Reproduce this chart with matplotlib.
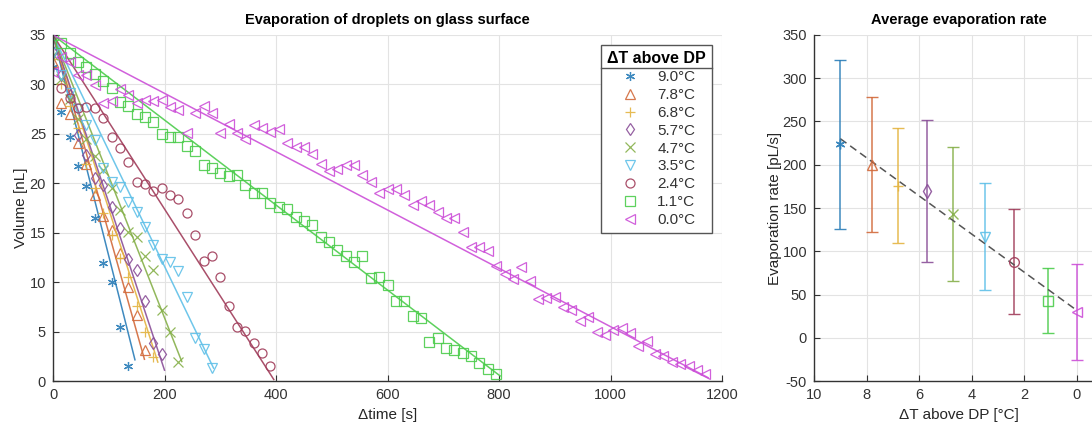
import numpy as np
import matplotlib
matplotlib.use("Agg")
import matplotlib.pyplot as plt
from matplotlib.lines import Line2D

plt.rcParams["font.family"] = ["Liberation Sans", "DejaVu Sans"]
plt.rcParams["axes.unicode_minus"] = False

# ---- data ----
labels = ["9.0°C", "7.8°C", "6.8°C", "5.7°C", "4.7°C", "3.5°C", "2.4°C", "1.1°C", "0.0°C"]
dT = [9.0, 7.8, 6.8, 5.7, 4.7, 3.5, 2.4, 1.1, 0.0]

t90 = [0, 15, 30, 45, 60, 75, 90, 105, 120, 135]
v90 = [31.8, 27.2, 24.7, 21.7, 19.7, 16.5, 11.9, 10.0, 5.5, 1.5]
t78 = [0, 15, 30, 45, 60, 75, 90, 105, 120, 135, 150, 165]
v78 = [32.3, 28.1, 27.0, 24.1, 22.0, 18.8, 16.7, 15.3, 12.9, 9.5, 6.7, 3.1]
t68 = [0, 15, 30, 45, 60, 75, 90, 105, 120, 135, 150, 165, 180]
v68 = [32.6, 30.0, 27.8, 25.6, 22.0, 19.5, 17.0, 14.8, 12.4, 10.5, 7.6, 5.0, 2.4]
t57 = [0, 15, 30, 45, 60, 75, 90, 105, 120, 135, 150, 165, 180, 195]
v57 = [33.3, 31.0, 28.9, 24.9, 22.9, 20.5, 19.8, 17.6, 15.5, 12.3, 11.2, 8.1, 3.8, 2.7]
t47 = [0, 15, 30, 45, 60, 75, 90, 105, 120, 135, 150, 165, 180, 195, 210, 225]
v47 = [33.0, 30.5, 28.5, 26.5, 24.5, 22.8, 21.3, 19.5, 17.3, 15.1, 14.6, 12.6, 11.2, 7.2, 5.0, 1.9]
t35 = [0, 15, 30, 45, 60, 75, 90, 105, 120, 135, 150, 165, 180, 195, 210, 225, 240, 255, 270, 285]
v35 = [33.2, 31.0, 29.1, 27.5, 25.9, 24.4, 21.5, 20.1, 19.6, 18.1, 17.1, 15.6, 13.8, 12.3, 12.0, 11.1,
       8.5, 4.3, 3.2, 1.3]
t24 = [15, 30, 45, 60, 75, 90, 105, 120, 135, 150, 165, 180, 195, 210, 225, 240, 255, 270, 285, 300,
       315, 330, 345, 360, 375, 390]
v24 = [29.6, 28.6, 27.6, 27.7, 27.6, 26.6, 24.7, 23.6, 22.2, 20.1, 19.9, 19.2, 19.5, 18.8, 18.4, 17.0,
       14.8, 12.1, 12.6, 10.5, 7.6, 5.5, 5.1, 3.8, 2.8, 1.5]
t11 = [0, 15, 30, 45, 60, 75, 90, 105, 120, 135, 150, 165, 180, 195, 210, 225, 240, 255, 270, 285,
       300, 315, 330, 345, 360, 375, 390, 405, 420, 435, 450, 465, 480, 495, 510, 525, 540, 555, 570, 585,
       600, 615, 630, 645, 660, 675, 690, 705, 720, 735, 750, 765, 780, 795]
v11 = [35.0, 34.2, 33.2, 32.3, 31.8, 31.1, 30.3, 29.6, 28.2, 27.8, 27.0, 26.7, 26.2, 25.0, 24.7, 24.7,
       23.8, 23.3, 21.8, 21.5, 21.0, 20.7, 20.8, 19.8, 19.0, 19.0, 18.0, 17.6, 17.4, 16.6, 16.2, 15.8,
       14.6, 14.1, 13.3, 12.6, 12.0, 12.6, 10.4, 10.5, 9.7, 8.1, 8.1, 6.6, 6.4, 3.9, 4.3, 3.3, 3.1, 2.8,
       2.5, 1.8, 1.2, 0.7]
t00 = [0, 15, 30, 45, 60, 75, 90, 105, 120, 135, 150, 165, 180, 195, 210, 225, 240, 255, 270, 285,
       300, 315, 330, 345, 360, 375, 390, 405, 420, 435, 450, 465, 480, 495, 510, 525, 540, 555, 570, 585,
       600, 615, 630, 645, 660, 675, 690, 705, 720, 735, 750, 765, 780, 795, 810, 825, 840, 855, 870, 885,
       900, 915, 930, 945, 960, 975, 990, 1005, 1020, 1035, 1050, 1065, 1080, 1095, 1110, 1125, 1140,
       1155, 1170]
v00 = [31.3, 32.8, 32.3, 31.0, 31.0, 29.9, 28.1, 28.3, 29.5, 28.9, 28.1, 28.4, 28.3, 28.4, 27.7, 27.4,
       25.1, 27.1, 27.8, 27.1, 25.1, 26.0, 25.1, 24.5, 25.9, 25.6, 25.2, 25.5, 24.1, 23.7, 23.7, 23.0,
       22.0, 21.2, 21.4, 21.8, 21.8, 20.8, 20.1, 19.0, 19.4, 19.4, 18.8, 17.8, 18.2, 17.8, 17.1, 16.5,
       16.5, 15.1, 13.6, 13.6, 13.2, 11.6, 10.8, 10.3, 11.5, 10.1, 8.3, 8.4, 8.5, 7.5, 7.2, 6.1, 6.5,
       5.0, 4.7, 5.2, 5.4, 4.9, 3.5, 4.0, 2.7, 2.5, 1.9, 1.7, 1.5, 1.1, 0.7]

times = [t90, t78, t68, t57, t47, t35, t24, t11, t00]
vols = [v90, v78, v68, v57, v47, v35, v24, v11, v00]

# average evaporation rate [pL/s] and its spread
rate_mean = [223.5, 200, 176, 169.5, 143, 117, 88, 43, 29.5]
rate_err = [97.5, 78, 67, 82.5, 77, 62, 61, 38, 55.5]
# end time of each linear fit [s], fits start from the initial volume
fit_end = [147, 164, 188, 200, 231, 288, 396, 802, 1175]
V0 = 35.0

colors = ["#2a7db8", "#d2693a", "#e4b440", "#8a4f98", "#86b04a", "#5fc0e8", "#a03c5a", "#4ccc4c", "#cc4fd8"]
markers = [(6, 2, 0), "^", "+", "d", "x", "v", "o", "s", "<"]

gray = "#262626"

fig = plt.figure(figsize=(10.92, 4.23), dpi=100)
ax1 = fig.add_axes([53 / 1092, 42 / 423, 669 / 1092, 346 / 423])
ax2 = fig.add_axes([814 / 1092, 42 / 423, 289 / 1092, 346 / 423])

handles = []
for t, v, c, m, r, te in zip(times, vols, colors, markers, rate_mean, fit_end):
    h, = ax1.plot(t, v, ls="none", marker=m, ms=6.5, mfc="none", mec=c, mew=0.9, alpha=0.9)
    handles.append(h)
    tt = np.array([0, te])
    ax1.plot(tt, V0 - r / 1000 * tt, color=c, lw=1.1, alpha=0.9)

ax1.set_xlim(0, 1200)
ax1.set_ylim(0, 35)
ax1.set_xticks(np.arange(0, 1201, 200))
ax1.set_yticks(np.arange(0, 36, 5))
ax1.set_title("Evaporation of droplets on glass surface", fontsize=10.5, fontweight="bold", pad=8)
ax1.set_xlabel("Δtime [s]", fontsize=11, color=gray, labelpad=4)
ax1.set_ylabel("Volume [nL]", fontsize=11, color=gray, labelpad=1)

leg = ax1.legend(handles, labels, title="ΔT above DP", loc="upper right",
                 bbox_to_anchor=(0.985, 0.97), borderaxespad=0, fontsize=11,
                 title_fontproperties={"size": 11.5, "weight": "bold"},
                 frameon=True, fancybox=False, framealpha=1, edgecolor="#555555",
                 handlelength=1.6, handletextpad=1.0, labelspacing=0.25, borderpad=0.4)
leg.get_frame().set_linewidth(1.0)
for txt in leg.get_texts():
    txt.set_color("#333333")

# right: average rate
for x, y, e, c, m in zip(dT, rate_mean, rate_err, colors, markers):
    ax2.errorbar(x, y, yerr=e, color=c, marker=m, ms=7, mfc="none", mec=c, mew=1.0,
                 capsize=4, elinewidth=1.1, capthick=1.1, alpha=0.9)
coef = np.polyfit(dT, rate_mean, 1)
xf = np.array([max(dT), min(dT)])
ax2.plot(xf, np.polyval(coef, xf), ls=(0, (5, 3)), color="#555555", lw=1.1)

ax2.set_xlim(10, -1)
ax2.set_ylim(-50, 350)
ax2.set_xticks(np.arange(10, -1, -2))
ax2.set_yticks(np.arange(-50, 351, 50))
ax2.set_title("Average evaporation rate", fontsize=10.5, fontweight="bold", pad=8)
ax2.set_xlabel("ΔT above DP [°C]", fontsize=11, color=gray, labelpad=4)
ax2.set_ylabel("Evaporation rate [pL/s]", fontsize=11, color=gray, labelpad=0)

for ax in (ax1, ax2):
    ax.grid(True, color="#e3e3e3", lw=0.8)
    ax.set_axisbelow(True)
    ax.spines["top"].set_visible(False)
    ax.spines["right"].set_visible(False)
    for s in ("left", "bottom"):
        ax.spines[s].set_color("#333333")
        ax.spines[s].set_linewidth(1.0)
    ax.tick_params(direction="in", length=4, width=0.8, labelsize=10.5, colors="#333333", pad=5)

# separator line under the legend title, like MATLAB
fig.canvas.draw()
fb = leg.get_frame().get_window_extent()
tb = leg.get_title().get_window_extent()
ysep = tb.y0 - 2
inv = fig.transFigure.inverted()
(x0, y0), (x1, _) = inv.transform([(fb.x0, ysep), (fb.x1, ysep)])
fig.add_artist(Line2D([x0, x1], [y0, y0], transform=fig.transFigure, color="#555555", lw=1.0))

fig.savefig("out.png", dpi=100)
